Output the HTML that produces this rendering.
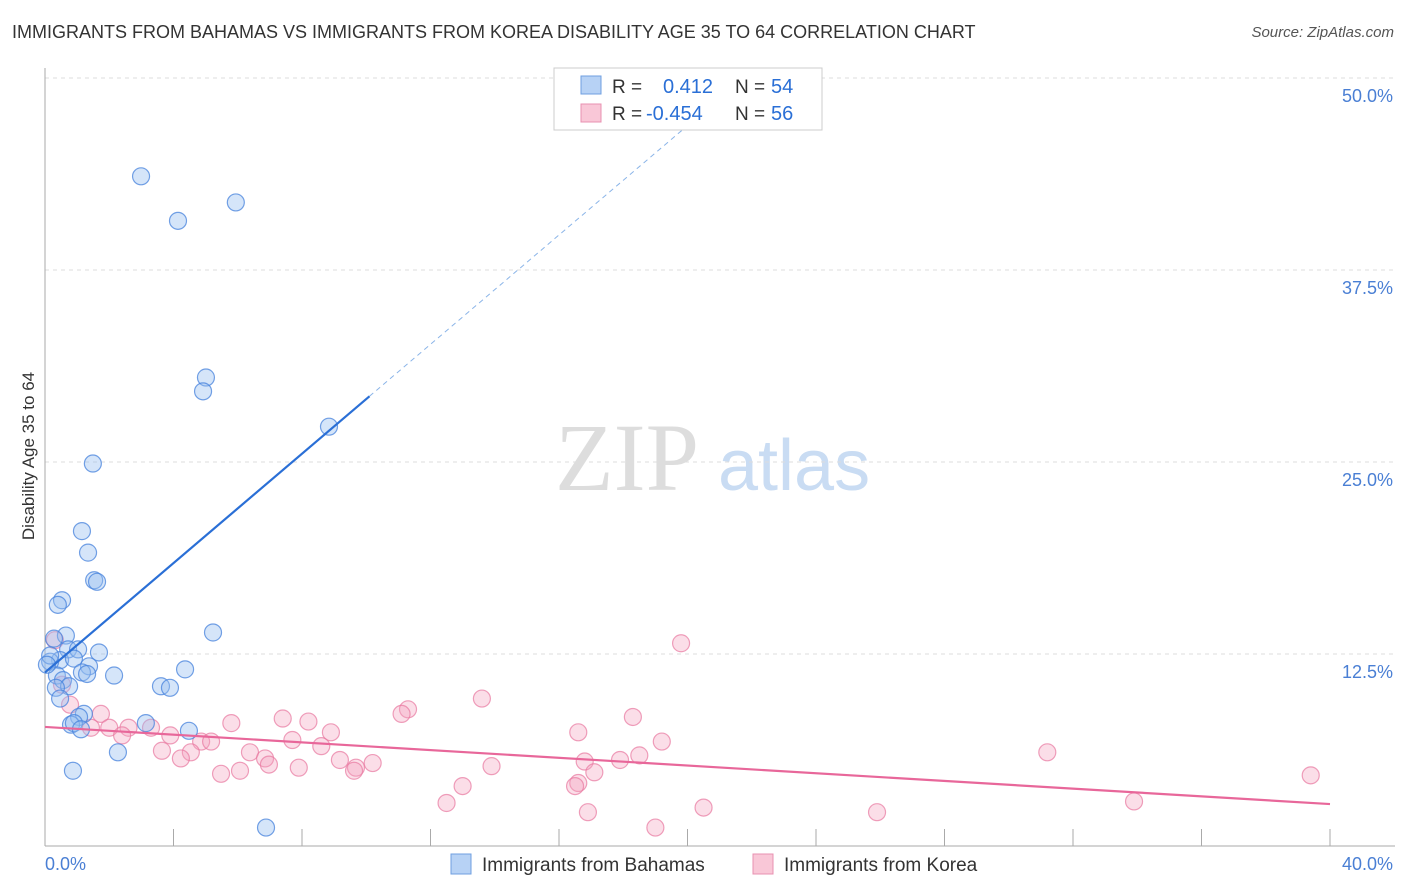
<!DOCTYPE html>
<html><head><meta charset="utf-8"><style>
body{margin:0;background:#fff;font-family:"Liberation Sans",sans-serif;}
#wrap{position:relative;width:1406px;height:892px;overflow:hidden}
.t{position:absolute;white-space:nowrap}
</style></head><body>
<div id="wrap">
<div class="t" style="left:12px;top:22px;font-size:18px;color:#333">IMMIGRANTS FROM BAHAMAS VS IMMIGRANTS FROM KOREA DISABILITY AGE 35 TO 64 CORRELATION CHART</div>
<div class="t" style="right:12px;top:24px;font-size:15px;color:#555;font-style:italic">Source: ZipAtlas.com</div>
<svg id="svg" width="1406" height="892" style="position:absolute;left:0;top:0"></svg>
</div>
<script>
const xTicks=[0,4,8,12,16,20,24,28,32,36,40];
const yTicks=[12.5,25,37.5,50];
const yTickLabels=["12.5%","25.0%","37.5%","50.0%"];
const bahamasX=[2.99,4.14,5.94,5.01,4.92,8.84,1.49,1.15,1.34,1.53,1.62,0.53,0.40,5.23,0.65,0.28,1.68,0.72,1.03,0.47,0.16,0.90,1.37,4.36,1.15,1.31,2.15,0.37,0.56,0.75,0.34,3.61,3.89,0.47,1.21,1.06,3.14,0.81,0.90,4.48,1.12,2.27,0.87,6.88,0.16,0.06];
const bahamasY=[43.6,40.7,41.9,30.5,29.6,27.3,24.9,20.5,19.1,17.3,17.2,16.0,15.7,13.9,13.7,13.5,12.6,12.8,12.8,12.1,12.0,12.2,11.7,11.5,11.3,11.2,11.1,11.1,10.8,10.4,10.3,10.4,10.3,9.6,8.6,8.4,8.0,7.9,8.0,7.5,7.6,6.1,4.9,1.2,12.4,11.8];
const koreaX=[19.8,13.6,11.3,11.1,18.3,7.4,8.2,5.8,1.74,0.78,0.53,0.31,1.43,2.0,2.6,3.3,2.4,3.9,8.9,16.6,7.7,4.86,5.17,19.2,8.6,3.64,4.54,6.38,31.2,18.5,4.23,6.85,9.18,16.8,17.9,10.2,6.97,9.68,7.9,13.9,9.62,6.07,5.48,17.1,39.4,16.6,16.5,13.0,12.5,33.9,20.5,16.9,25.9,19.0];
const koreaY=[13.2,9.6,8.9,8.6,8.4,8.3,8.1,8.0,8.6,9.2,10.5,13.4,7.7,7.7,7.7,7.7,7.2,7.2,7.4,7.4,6.9,6.8,6.8,6.8,6.5,6.2,6.1,6.1,6.1,5.9,5.7,5.7,5.6,5.5,5.6,5.4,5.3,5.1,5.1,5.2,4.9,4.9,4.7,4.8,4.6,4.1,3.9,3.9,2.8,2.9,2.5,2.2,2.2,1.2];
const blueTrend=[11.3,1.78];   // intercept, slope
const pinkTrend=[7.75,-0.1255];
const X=v=>45+v*32.125, Y=v=>846-v*15.36;
const svg=document.getElementById('svg');const NS='http://www.w3.org/2000/svg';
function mk(t,a,p){const e=document.createElementNS(NS,t);for(const k in a)e.setAttribute(k,a[k]);(p||svg).appendChild(e);return e;}
// watermark
let w=mk('text',{x:555,y:490,'font-size':96,'font-family':'Liberation Serif',fill:'#ddd'});w.textContent='ZIP';


let w2=mk('text',{x:718,y:490,'font-size':72,'font-family':'Liberation Sans',fill:'#c9dcf3'});w2.textContent='atlas';


yTicks.forEach((v,i)=>{const g=mk('line',{x1:45,x2:1395,y1:Y(v),y2:Y(v),stroke:'#ddd','stroke-dasharray':'4,4'});


const t=mk('text',{x:1393,y:Y(v)+24,'text-anchor':'end','font-size':18,fill:'#4a7fd4'});t.textContent=yTickLabels[i];

});
mk('line',{x1:45,x2:45,y1:68,y2:846,stroke:'#aaa'});
mk('line',{x1:45,x2:1395,y1:846,y2:846,stroke:'#aaa'});
xTicks.forEach(v=>{const l=mk('line',{x1:X(v),x2:X(v),y1:829,y2:846,stroke:'#aaa'});

});
let xl=mk('text',{x:45,y:870,'font-size':18,fill:'#4a7fd4'});xl.textContent='0.0%';


let xr=mk('text',{x:1393,y:870,'text-anchor':'end','font-size':18,fill:'#4a7fd4'});xr.textContent='40.0%';


let yt=mk('text',{x:34,y:456,'text-anchor':'middle','font-size':17,fill:'#333',transform:'rotate(-90 34 456)'});yt.textContent='Disability Age 35 to 64';


koreaX.forEach((v,i)=>{const c=mk('circle',{cx:X(v),cy:Y(koreaY[i]),r:8.5,fill:'rgba(244,160,190,0.35)',stroke:'rgba(232,120,160,0.7)','stroke-width':1.2});

});
bahamasX.forEach((v,i)=>{const c=mk('circle',{cx:X(v),cy:Y(bahamasY[i]),r:8.5,fill:'rgba(150,190,240,0.4)',stroke:'rgba(70,130,220,0.75)','stroke-width':1.2});

});
const xe=(50-blueTrend[0])/blueTrend[1];
let bd=mk('line',{x1:X(10.1),y1:Y(blueTrend[0]+blueTrend[1]*10.1),x2:X(xe),y2:Y(50),stroke:'#8ab4e8','stroke-width':1,'stroke-dasharray':'5,4'});


let bt=mk('line',{x1:X(0),y1:Y(blueTrend[0]),x2:X(10.1),y2:Y(blueTrend[0]+blueTrend[1]*10.1),stroke:'#2a6fd6','stroke-width':2.2});


let pt=mk('line',{x1:X(0),y1:Y(pinkTrend[0]),x2:X(40),y2:Y(pinkTrend[0]+pinkTrend[1]*40),stroke:'#e8679a','stroke-width':2.2});


// legend box
let lb=mk('rect',{x:554,y:68,width:268,height:62,fill:'#fff',stroke:'#ccc'});


mk('rect',{x:581,y:76,width:20,height:18,fill:'#b7d2f5',stroke:'#6f9fe0'});
mk('rect',{x:581,y:104,width:20,height:18,fill:'#f9c7d7',stroke:'#e890b0'});
function txt(x,y,s,c,a){const t=mk('text',{x:x,y:y,'font-size':a||19,fill:c});t.textContent=s;return t;}
txt(612,93,'R =','#333');txt(663,93,'0.412','#2a6fd6',20);txt(735,93,'N =','#333');txt(771,93,'54','#2a6fd6',20);
txt(612,120,'R =','#333');txt(646,120,'-0.454','#2a6fd6',20);txt(735,120,'N =','#333');txt(771,120,'56','#2a6fd6',20);
// bottom legend
let b1=mk('rect',{x:451,y:854,width:20,height:20,fill:'#b7d2f5',stroke:'#6f9fe0'});


txt(482,871,'Immigrants from Bahamas','#333');
let b2=mk('rect',{x:753,y:854,width:20,height:20,fill:'#f9c7d7',stroke:'#e890b0'});


txt(784,871,'Immigrants from Korea','#333');
</script>
</body></html>
